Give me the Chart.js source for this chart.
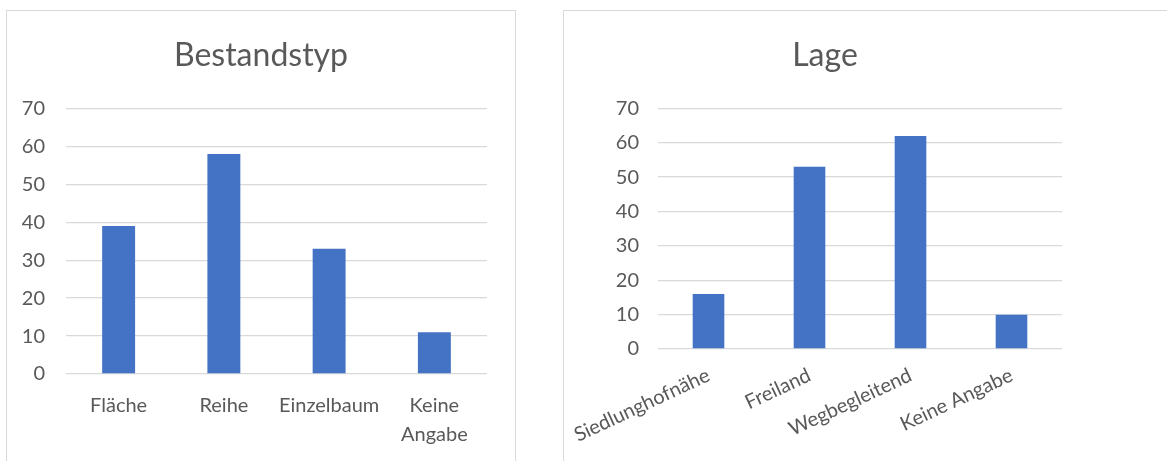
<!DOCTYPE html>
<html>
<head>
<meta charset="utf-8">
<script src="https://cdn.jsdelivr.net/npm/chart.js@4.4.1/dist/chart.umd.min.js"></script>
<style>
  body { margin: 0; background: #fff; width: 1167px; height: 461px; overflow: hidden; position: relative; }
  .panel { position: absolute; border: 1.5px solid #d9d9d9; box-sizing: border-box; background: #fff; }
  canvas { position: absolute; }
</style>
</head>
<body>
<div class="panel" style="left:6px; top:10px; width:510px; height:470px;"></div>
<div class="panel" style="left:563px; top:10px; width:640px; height:470px;"></div>
<canvas id="bestandChart" width="507" height="450" style="left:7px; top:11px;"></canvas>
<canvas id="lageChart" width="603" height="450" style="left:564px; top:11px;"></canvas>
<script>
// --- DATA ---
const bestandLabels = ['Fläche', 'Reihe', 'Einzelbaum', ['Keine', 'Angabe']];
const bestandValues = [39, 58, 33, 11];

const lageLabels = ['Siedlunghofnähe', 'Freiland', 'Wegbegleitend', 'Keine Angabe'];
const lageValues = [16, 53, 62, 10];

const yMin = 0, yMax = 70, yStep = 10;

const textColor = '#595959';
const gridColor = '#d9d9d9';
const barColor = '#4472c4';

// builds one Excel-style column chart
function makeChart(id, title, labels, values, cfg) {
    const ctx = document.getElementById(id).getContext('2d');
    return new Chart(ctx, {
        type: 'bar',
        data: {
            labels: labels,
            datasets: [{
                data: values,
                backgroundColor: barColor,
                barPercentage: 0.313,
                categoryPercentage: 1
            }]
        },
        options: {
            responsive: false,
            animation: false,
            layout: { padding: { left: 0, right: cfg.padRight, top: 0, bottom: 0 } },
            plugins: {
                legend: { display: false },
                tooltip: { enabled: false },
                title: {
                    display: true, text: title, color: textColor,
                    font: { family: 'Lato', size: 32, weight: 'normal', lineHeight: 1.2 },
                    padding: { top: 25, bottom: 34 }
                }
            },
            scales: {
                x: {
                    grid: { display: false, drawTicks: false },
                    border: { display: false },
                    ticks: {
                        color: textColor, autoSkip: false,
                        minRotation: cfg.rotation, maxRotation: cfg.rotation,
                        padding: cfg.xPad, labelOffset: cfg.xShift,
                        font: { family: 'Lato', size: 20, lineHeight: 1.45 }
                    },
                    afterFit: s => {
                        s.height = cfg.xHeight;
                        // rotated labels would otherwise push the plot to the right
                        s.paddingLeft = 0;
                        s.paddingRight = 0;
                    }
                },
                y: {
                    min: yMin, max: yMax,
                    grid: { color: gridColor, lineWidth: 1.3, drawTicks: false },
                    border: { display: false },
                    ticks: {
                        stepSize: yStep, color: textColor, padding: cfg.yPad,
                        font: { family: 'Lato', size: 20 }
                    },
                    afterFit: s => { s.width = cfg.yWidth; }
                }
            }
        },
        plugins: [{
            // the title sits centred on the whole panel, not on the plot
            id: 'titleCenter',
            afterLayout(chart) {
                const t = chart.titleBlock;
                if (!t) return;
                const w = t.right - t.left;
                t.left = cfg.titleX - w / 2;
                t.right = cfg.titleX + w / 2;
            }
        }]
    });
}

makeChart('bestandChart', 'Bestandstyp', bestandLabels, bestandValues,
    { titleX: 254, padRight: 27, yWidth: 59, yPad: 21, xHeight: 87, xPad: 17, xShift: 0, rotation: 0 });

makeChart('lageChart', 'Lage', lageLabels, lageValues,
    { titleX: 261, padRight: 105, yWidth: 94, yPad: 19, xHeight: 112, xPad: 12, xShift: 0, rotation: 25 });
</script>
</body>
</html>
